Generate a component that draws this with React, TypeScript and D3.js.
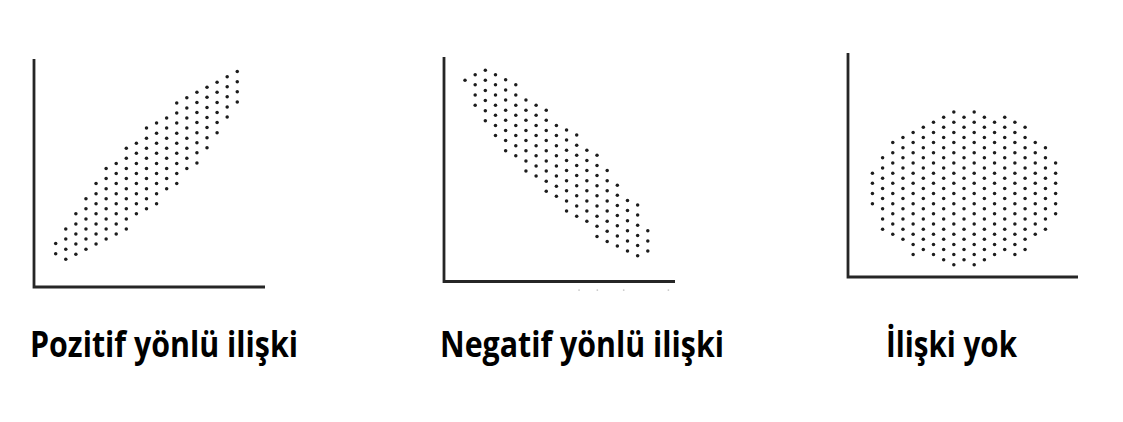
import React from 'react';
import { scaleLinear, range } from 'd3';

// each column of the dot cloud: [x, lowest y, highest y], dots every 1 unit between
const positiveCols: [number, number, number][] = [
  [2.15, 3.3, 4.3], [3.15, 2.75, 5.75], [4.15, 3.25, 7.25], [5.15, 3.75, 8.75],
  [6.15, 4.25, 10.25], [7.15, 4.75, 11.75], [8.15, 5.25, 12.25], [9.15, 5.75, 13.75],
  [10.15, 7.25, 14.25], [11.15, 7.75, 15.75], [12.15, 8.25, 16.25], [13.15, 9.75, 16.75],
  [14.15, 10.25, 18.25], [15.15, 11.75, 18.75], [16.15, 12.3, 19.3], [17.15, 13.8, 19.8],
  [18.15, 15.3, 20.3], [19.15, 16.85, 20.85], [20.15, 18.35, 21.35],
];

const negativeCols: [number, number, number][] = [
  [2.07, 19.85, 19.85], [3.07, 17.4, 20.4], [4.07, 15.85, 20.85], [5.07, 14.4, 20.4],
  [6.07, 12.9, 19.9], [7.07, 12.4, 19.4], [8.07, 10.9, 17.9], [9.07, 10.4, 17.4],
  [10.07, 8.9, 16.9], [11.07, 8.4, 15.4], [12.07, 6.95, 14.95], [13.07, 6.45, 14.45],
  [14.07, 5.95, 12.95], [15.07, 4.45, 12.45], [16.07, 3.95, 10.95], [17.07, 3.5, 9.5],
  [18.07, 3.0, 8.0], [19.07, 2.55, 7.55], [20.07, 3.0, 5.0],
];

const noneCols: [number, number, number][] = [
  [2.4, 7.2, 10.2], [3.4, 4.7, 11.7], [4.4, 4.2, 13.2], [5.4, 3.7, 13.7],
  [6.4, 2.2, 14.2], [7.4, 2.7, 14.7], [8.4, 2.2, 15.2], [9.4, 1.7, 15.7],
  [10.4, 1.2, 16.2], [11.4, 1.7, 15.7], [12.4, 1.2, 16.2], [13.4, 1.7, 15.7],
  [14.4, 2.2, 15.2], [15.4, 2.7, 15.7], [16.4, 2.2, 15.2], [17.4, 2.7, 14.7],
  [18.4, 4.2, 13.2], [19.4, 4.7, 12.7], [20.4, 6.2, 11.2],
];

// faint specks under the second x axis
const negativeSpecks: [number, number][] = [[13.3, -0.85], [15.1, -0.85], [17.7, -0.85], [22.1, -0.85]];

const labels = ['Pozitif yönlü ilişki', 'Negatif yönlü ilişki', 'İlişki yok'];

type Panel = {
  cols: [number, number, number][];
  specks: [number, number][];
  label: string;
  xMax: number; yMax: number;
  left: number; right: number; top: number; bottom: number;
  labelX: number; labelW: number;
};

const panels: Panel[] = [
  { cols: positiveCols, specks: [], label: labels[0], xMax: 22.9, yMax: 22.6,
    left: 34, right: 265, top: 59, bottom: 287, labelX: 30, labelW: 268 },
  { cols: negativeCols, specks: negativeSpecks, label: labels[1], xMax: 22.75, yMax: 22.15,
    left: 444, right: 675, top: 57, bottom: 281.5, labelX: 440, labelW: 284 },
  { cols: noneCols, specks: [], label: labels[2], xMax: 22.6, yMax: 22.0,
    left: 848, right: 1078, top: 53, bottom: 277, labelX: 886, labelW: 131 },
];

const ScatterPanel: React.FC<{ p: Panel }> = ({ p }) => {
  const x = scaleLinear([0, p.xMax], [p.left, p.right]);
  const y = scaleLinear([0, p.yMax], [p.bottom, p.top]);
  const dots: [number, number][] = [];
  p.cols.forEach(([cx, lo, hi]) => {
    range(lo, hi + 0.5, 1).forEach(cy => dots.push([cx, cy]));
  });
  return (
    <g>
      {dots.map((d, i) => (
        <circle key={i} cx={x(d[0])} cy={y(d[1])} r={1.75} fill="#1c1c1c" />
      ))}
      {p.specks.map((d, i) => (
        <circle key={'s' + i} cx={x(d[0])} cy={y(d[1])} r={0.9} fill="#c8c8c8" />
      ))}
      <path
        d={`M${x(0)},${y(p.yMax)}V${y(0)}H${x(p.xMax)}`}
        fill="none"
        stroke="#262626"
        strokeWidth={2.8}
      />
      <text
        x={p.labelX}
        y={357}
        textLength={p.labelW}
        lengthAdjust="spacingAndGlyphs"
        fontFamily="'Open Sans', sans-serif"
        fontWeight={700}
        fontSize={35}
        fill="#000"
      >
        {p.label}
      </text>
    </g>
  );
};

export default function App() {
  return (
    <svg width={1123} height={422} style={{ position: 'absolute', left: 0, top: 0, background: '#fff' }}>
      <rect width={1123} height={422} fill="#fff" />
      {panels.map((p, i) => <ScatterPanel key={i} p={p} />)}
    </svg>
  );
}
